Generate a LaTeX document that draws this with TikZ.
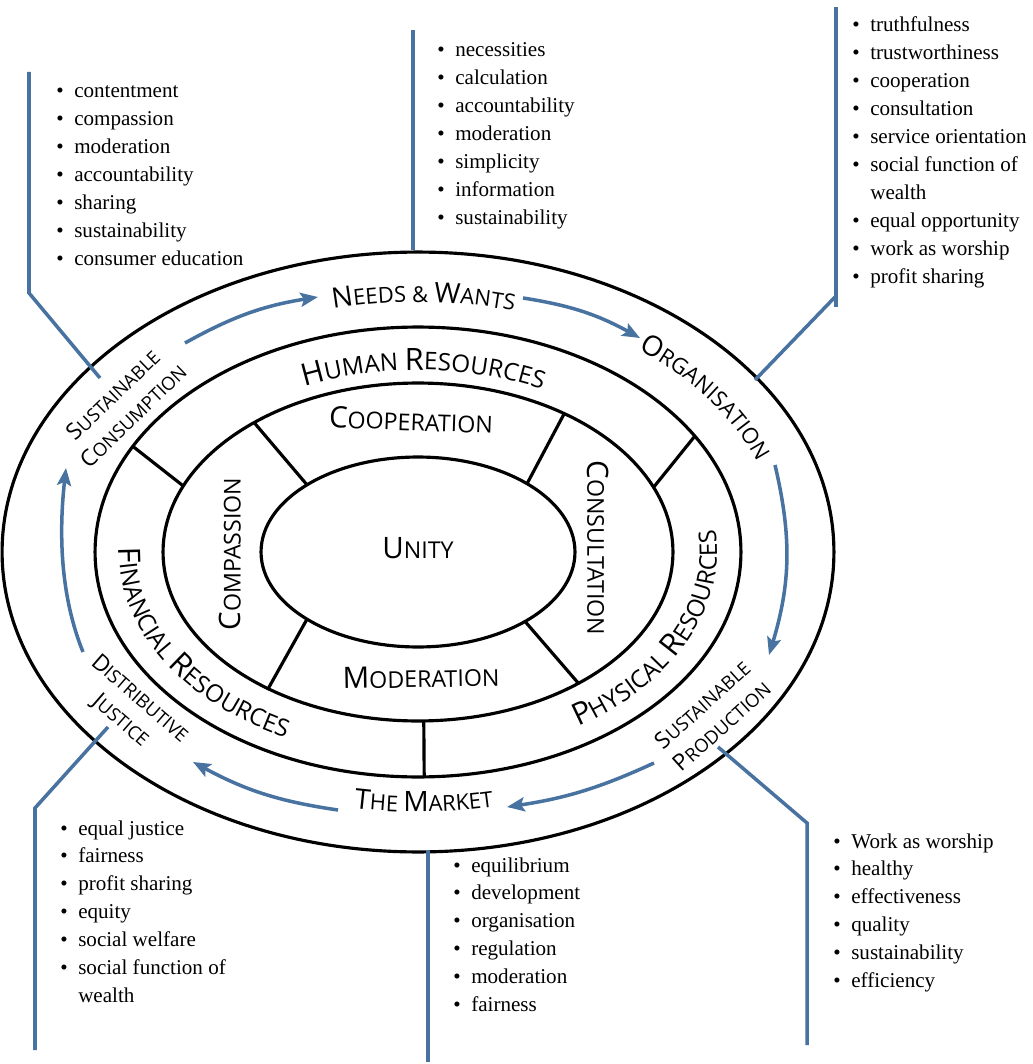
\documentclass[tikz,border=0pt]{standalone}
\usepackage{fontspec}
\setmainfont{Open Sans}
\newfontfamily\listfamily{Liberation Serif}
\usetikzlibrary{calc,arrows.meta,decorations.text}
\definecolor{callblue}{RGB}{72,114,160}
\newcommand\bigsc{\fontsize{16}{18}\selectfont}
\newcommand\smallsc{\fontsize{12.5}{14}\selectfont}
\newcommand\resbig{\fontsize{17.5}{19}\selectfont}
\newcommand\ressmall{\fontsize{13.8}{15}\selectfont}
\newcommand\scword[2]{{\fontsize{16.8}{18}\selectfont #1}{\fontsize{13.2}{14}\selectfont #2}}
\newcommand\scsmall[2]{{\fontsize{13}{16.5}\selectfont #1}{\fontsize{10.5}{16.5}\selectfont #2}}

\begin{document}
\begin{tikzpicture}[x=0.02cm,y=-0.02cm,
ring/.style={line width=1.8pt},
call/.style={callblue,line width=2pt},
flow/.style={callblue,line width=2pt,-{Stealth[length=10pt,width=8pt,inset=2pt]}},
lab/.style={inner sep=0pt},
lab2/.style={inner sep=0pt,align=center,font=\fontsize{10.5}{16.5}\selectfont},
blist/.style={inner sep=0pt,anchor=base west,font=\listfamily\fontsize{12}{15.9}\selectfont},
arctext/.style={decorate,decoration={text along path,text align=center,text={#1}}}]
\useasboundingbox (0,0) rectangle (1033,1064);
\coordinate (c) at (418,552);

% rings
\draw[ring] (c) ellipse [x radius=8.32cm,y radius=6cm];
\draw[ring] (c) ellipse [x radius=6.46cm,y radius=4.5cm];
\draw[ring] (c) ellipse [x radius=5.1cm,y radius=3.38cm];
\draw[ring] (c) ellipse [x radius=3.14cm,y radius=1.9cm];
\foreach \a/\b in {152/157,31/22.5,-88.9/-88.7}
  \draw[ring] ($(c)+(\a:6.46cm and 4.5cm)$) -- ($(c)+(\b:5.1cm and 3.38cm)$);
\foreach \a/\b in {130/135,55/46,-126/-135,-51/-47}
  \draw[ring] ($(c)+(\a:5.1cm and 3.38cm)$) -- ($(c)+(\b:3.14cm and 1.9cm)$);

% inner labels
\node[lab] (unity) at (418,548) {\scword{U}{NITY}};
\node[lab,rotate=-2] (coop) at (411,420) {\scword{C}{OOPERATION}};
\node[lab,rotate=1] (moder) at (421,677) {\scword{M}{ODERATION}};
\node[lab,rotate=90] (compas) at (230,554) {\scword{C}{OMPASSION}};
\node[lab,rotate=-90] (consult) at (598,548) {\scword{C}{ONSULTATION}};

% resources ring
\path[arctext={|\resbig|H|\ressmall|UMAN |\resbig|R|\ressmall|ESOURCES}]
  ($(c)+(150:5.52cm and 3.64cm)$) arc[start angle=150,end angle=27,x radius=5.52cm,y radius=3.64cm];
\path[arctext={|\resbig|F|\ressmall|INANCIAL |\resbig|R|\ressmall|ESOURCES}]
  ($(c)+(154:5.98cm and 4.14cm)$) arc[start angle=154,end angle=262,x radius=5.98cm,y radius=4.14cm];
\path[arctext={|\resbig|P|\ressmall|HYSICAL |\resbig|R|\ressmall|ESOURCES}]
  ($(c)+(-75:5.98cm and 4.14cm)$) arc[start angle=-75,end angle=29,x radius=5.98cm,y radius=4.14cm];

% outer ring
\path[arctext={|\bigsc|N|\smallsc|EEDS {\&} |\bigsc|W|\smallsc|ANTS}]
  ($(c)+(130:7.2cm and 5cm)$) arc[start angle=130,end angle=48,x radius=7.2cm,y radius=5cm];
\path[arctext={|\bigsc|O|\smallsc|RGANISATION}]
  ($(c)+(75:7.25cm and 5.1cm)$) arc[start angle=75,end angle=-9,x radius=7.25cm,y radius=5.1cm];
\path[arctext={|\bigsc|T|\smallsc|HE |\bigsc|M|\smallsc|ARKET}]
  ($(c)+(-125:7.5cm and 5.2cm)$) arc[start angle=-125,end angle=-53,x radius=7.5cm,y radius=5.2cm];
\node[lab2,rotate=44] (scons) at (123,405) {\scsmall{S}{USTAINABLE}\\\scsmall{C}{ONSUMPTION}};
\node[lab2,rotate=42] (sprod) at (712,715) {\scsmall{S}{USTAINABLE}\\\scsmall{P}{RODUCTION}};
\node[lab2,rotate=-41] (djust) at (130,710) {\scsmall{D}{ISTRIBUTIVE}\\\scsmall{J}{USTICE}};

% cycle
\draw[flow] (185,343) to[bend left=10] (318,297);
\draw[flow] (523,298) to[bend left=10] (640,338);
\draw[flow] (775,465) to[bend left=15] (769,655);
\draw[flow] (654,763) to[bend left=8] (507,807);
\draw[flow] (338,810) to[bend left=10] (193,762);
\draw[flow] (83,652) .. controls (62,600) and (58,540) .. (66,468);

% callouts
\draw[call] (100,378) -- (29,293) -- (29,72);
\draw[call] (413,250) -- (413,30);
\draw[call] (755,380) -- (836,296);
\draw[call] (836,307) -- (836,7);
\draw[call] (108,727) -- (35,808) -- (35,1050);
\draw[call] (428,850) -- (428,1062);
\draw[call] (718,747) -- (807,823) -- (807,1045);

% lists
\node[blist] (lconsum) at (56,98) {\begin{tabular}[t]{@{}l@{\hspace{6pt}}l@{}}
\textbullet & contentment\\ \textbullet & compassion\\ \textbullet & moderation\\
\textbullet & accountability\\ \textbullet & sharing\\ \textbullet & sustainability\\
\textbullet & consumer education\end{tabular}};
\node[blist] (lneeds) at (437,57) {\begin{tabular}[t]{@{}l@{\hspace{6pt}}l@{}}
\textbullet & necessities\\ \textbullet & calculation\\ \textbullet & accountability\\
\textbullet & moderation\\ \textbullet & simplicity\\ \textbullet & information\\
\textbullet & sustainability\end{tabular}};
\node[blist] (lorgan) at (852,32) {\begin{tabular}[t]{@{}l@{\hspace{6pt}}l@{}}
\textbullet & truthfulness\\ \textbullet & trustworthiness\\ \textbullet & cooperation\\
\textbullet & consultation\\ \textbullet & service orientation\\ \textbullet & social function of\\
& wealth\\ \textbullet & equal opportunity\\ \textbullet & work as worship\\
\textbullet & profit sharing\end{tabular}};
\node[blist] (ljust) at (60,835) {\begin{tabular}[t]{@{}l@{\hspace{6pt}}l@{}}
\textbullet & equal justice\\ \textbullet & fairness\\ \textbullet & profit sharing\\
\textbullet & equity\\ \textbullet & social welfare\\ \textbullet & social function of\\
& wealth\end{tabular}};
\node[blist] (lmarket) at (453,872) {\begin{tabular}[t]{@{}l@{\hspace{6pt}}l@{}}
\textbullet & equilibrium\\ \textbullet & development\\ \textbullet & organisation\\
\textbullet & regulation\\ \textbullet & moderation\\ \textbullet & fairness\end{tabular}};
\node[blist] (lprod) at (833,848) {\begin{tabular}[t]{@{}l@{\hspace{6pt}}l@{}}
\textbullet & Work as worship\\ \textbullet & healthy\\ \textbullet & effectiveness\\
\textbullet & quality\\ \textbullet & sustainability\\ \textbullet & efficiency\end{tabular}};
\end{tikzpicture}
\end{document}
